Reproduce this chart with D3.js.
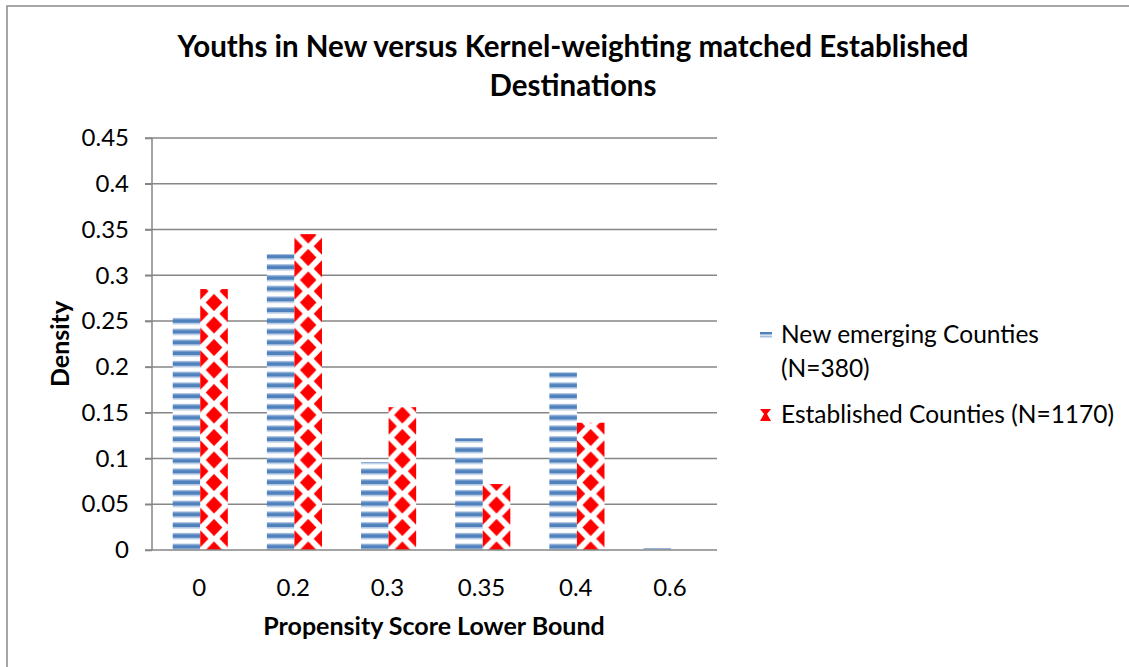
<!DOCTYPE html>
<html><head><meta charset="utf-8">
<script src="https://cdn.jsdelivr.net/npm/d3@7"></script>
<style>body{margin:0;background:#fff}svg{display:block}text{font-family:Lato,"Open Sans",sans-serif}</style>
</head><body>
<script>
const categories = ["0","0.2","0.3","0.35","0.4","0.6"];
const seriesNames = ["New emerging Counties (N=380)","Established Counties (N=1170)"];
const newEmerging = [0.258,0.323,0.096,0.122,0.194,0.002];
const established = [0.285,0.345,0.156,0.072,0.139,0];
const yTicks = [0,0.05,0.1,0.15,0.2,0.25,0.3,0.35,0.4,0.45];
const titleLines = ["Youths in New versus Kernel-weighting matched Established","Destinations"];
const xTitle = "Propensity Score Lower Bound";
const yTitle = "Density";

const W=1129,H=667;
const svg=d3.select("body").append("svg").attr("width",W).attr("height",H);
svg.append("rect").attr("x",7).attr("y",6).attr("width",1130).attr("height",700)
  .attr("fill","#fff").attr("stroke","#888").attr("stroke-width",1.5);

const x=d3.scaleBand().domain(categories).range([152,717]);
const x1=d3.scaleBand().domain([0,1]).range([x.bandwidth()*0.22,x.bandwidth()*0.805]);
const y=d3.scaleLinear().domain([0,0.45]).range([550,138]);

const defs=svg.append("defs");
// blue stripes
const sp=10.75;
const bp=defs.append("pattern").attr("id","blue").attr("patternUnits","userSpaceOnUse")
  .attr("width",8).attr("height",sp).attr("y",550-6.4);
bp.append("rect").attr("width",8).attr("height",sp).attr("fill","#fff");
bp.append("rect").attr("y",0).attr("width",8).attr("height",1.2).attr("fill","#a7bfdf");
bp.append("rect").attr("y",1.2).attr("width",8).attr("height",4).attr("fill","#4f81bd");
bp.append("rect").attr("y",5.2).attr("width",8).attr("height",1.2).attr("fill","#a7bfdf");

const data=[];
categories.forEach((c,i)=>{data.push({c,s:0,v:newEmerging[i],i});data.push({c,s:1,v:established[i],i});});

// red diamond patterns per bar
data.filter(d=>d.s===1).forEach(d=>{
  const bx=x(d.c)+x1(1), bw=x1.bandwidth();
  const pw=bw, ph=22.5;
  const p=defs.append("pattern").attr("id","red"+d.i).attr("patternUnits","userSpaceOnUse")
    .attr("x",bx).attr("y",550-ph/2).attr("width",pw).attr("height",ph);
  p.append("rect").attr("width",pw).attr("height",ph).attr("fill","#fff");
  const hw=pw*0.3, hh=ph*0.38;
  const dm=(cx,cy)=>`M${cx-hw},${cy}L${cx},${cy-hh}L${cx+hw},${cy}L${cx},${cy+hh}Z`;
  p.append("path").attr("d",[dm(pw/2,ph/2),dm(0,0),dm(pw,0),dm(0,ph),dm(pw,ph)].join("")).attr("fill","#ff0000");
});

// gridlines
svg.append("g").selectAll("line").data(yTicks.filter(t=>t>0)).join("line")
  .attr("x1",145).attr("x2",717).attr("y1",d=>y(d)).attr("y2",d=>y(d))
  .attr("stroke","#868686").attr("stroke-width",1.5);

// bars
svg.append("g").selectAll("rect").data(data).join("rect")
  .attr("x",d=>x(d.c)+x1(d.s)).attr("width",x1.bandwidth())
  .attr("y",d=>y(d.v)).attr("height",d=>y(0)-y(d.v))
  .attr("fill",d=>d.s===0?"url(#blue)":`url(#red${d.i})`);

// axes
const ya=svg.append("g").attr("transform","translate(152,0)")
  .call(d3.axisLeft(y).tickValues(yTicks).tickSize(7).tickPadding(16).tickFormat(d=>d3.format("")(d)));
ya.select(".domain").attr("stroke","#868686").attr("stroke-width",1.5).attr("d","M0,138V550");
ya.selectAll(".tick line").attr("stroke","#868686").attr("stroke-width",1.5);
ya.selectAll("text").attr("font-size",24).attr("fill","#000").attr("font-family","Lato");

const xa=svg.append("g").attr("transform","translate(0,550)")
  .call(d3.axisBottom(x).tickSize(0).tickPadding(29));
xa.select(".domain").attr("stroke","#868686").attr("stroke-width",1.5).attr("d","M145,0H717");
xa.selectAll("text").attr("font-size",24).attr("fill","#000").attr("font-family","Lato");

// titles
svg.append("text").attr("x",573).attr("text-anchor","middle").attr("font-weight","bold").attr("font-size",29.5)
  .selectAll("tspan").data(titleLines).join("tspan").attr("x",573).attr("y",(d,i)=>57+i*39).text(d=>d);
svg.append("text").attr("x",434).attr("y",635).attr("text-anchor","middle").attr("font-weight","bold").attr("font-size",25).text(xTitle);
svg.append("text").attr("transform","translate(69,344) rotate(-90)").attr("text-anchor","middle").attr("font-weight","bold").attr("font-size",25).text(yTitle);

// legend
const lg=svg.append("g");
lg.append("rect").attr("x",760).attr("y",332).attr("width",12).attr("height",2.5).attr("fill","#4f81bd");
lg.append("rect").attr("x",760).attr("y",335.5).attr("width",12).attr("height",2).attr("fill","#a7bfdf");
const t1=lg.append("text").attr("font-size",24.5);
t1.append("tspan").attr("x",781).attr("y",343).text("New emerging Counties");
t1.append("tspan").attr("x",781).attr("y",377).text("(N=380)");
lg.append("path").attr("d","M760,409H771L767,414L771,421H760L764,414Z").attr("fill","#ff0000");
lg.append("text").attr("x",781).attr("y",423).attr("font-size",24.5).text("Established Counties (N=1170)");
</script>
</body></html>
